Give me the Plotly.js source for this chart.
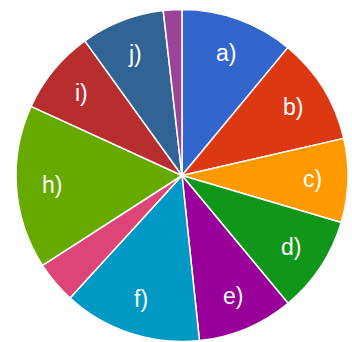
<!DOCTYPE html>
<html>
<head>
<meta charset="utf-8">
<script src="https://cdn.plot.ly/plotly-3.0.1.min.js"></script>
<style>html,body{margin:0;padding:0;background:#fff;}#chart{width:352px;height:342px;}</style>
</head>
<body>
<div id="chart"></div>
<script>
var labels = ['a)', 'b)', 'c)', 'd)', 'e)', 'f)', 'g)', 'h)', 'i)', 'j)', 'k)'];
var values = [11.0, 10.4, 8.15, 9.4, 9.35, 13.45, 4.1, 15.95, 8.2, 8.15, 1.8];
var shownText = ['a)', 'b)', 'c)', 'd)', 'e)', 'f)', '', 'h)', 'i)', 'j)', ''];
var colors = ['#3366cc', '#dc3912', '#ff9900', '#109618', '#990099', '#0099c6',
              '#dd4477', '#66aa00', '#b82e2e', '#316395', '#994499'];

var W = 352, H = 342;
var cxPx = 182, cyPx = 175.5, rPx = 166;
var domX = [(cxPx - rPx) / W, (cxPx + rPx) / W];
var domY = [(H - cyPx - rPx) / H, (H - cyPx + rPx) / H];

var trace = {
  type: 'pie',
  labels: labels,
  values: values,
  textinfo: 'none',
  hoverinfo: 'label+percent',
  sort: false,
  direction: 'clockwise',
  rotation: 0,
  marker: {colors: colors, line: {color: '#ffffff', width: 1.5}},
  domain: {x: domX, y: domY},
  showlegend: false
};

// slice labels placed at the middle angle of each slice (computed from values)
var total = values.reduce(function (s, v) { return s + v; }, 0);
var annotations = [];
var cum = 0;
var labelR = 0.785 * rPx;
for (var i = 0; i < values.length; i++) {
  var mid = (cum + values[i] / 2) / total * 2 * Math.PI;
  cum += values[i];
  if (!shownText[i]) continue;
  annotations.push({
    xref: 'paper', yref: 'paper',
    x: (cxPx + labelR * Math.sin(mid)) / W,
    y: (H - cyPx + labelR * Math.cos(mid)) / H,
    text: shownText[i],
    showarrow: false,
    xanchor: 'center', yanchor: 'middle',
    font: {family: 'Liberation Sans, Arial, sans-serif', size: 23, color: '#ffffff'}
  });
}

var layout = {
  width: W,
  height: H,
  margin: {l: 0, r: 0, t: 0, b: 0, pad: 0},
  paper_bgcolor: '#ffffff',
  plot_bgcolor: '#ffffff',
  showlegend: false,
  annotations: annotations
};

Plotly.newPlot('chart', [trace], layout, {displayModeBar: false, staticPlot: true});
</script>
</body>
</html>
